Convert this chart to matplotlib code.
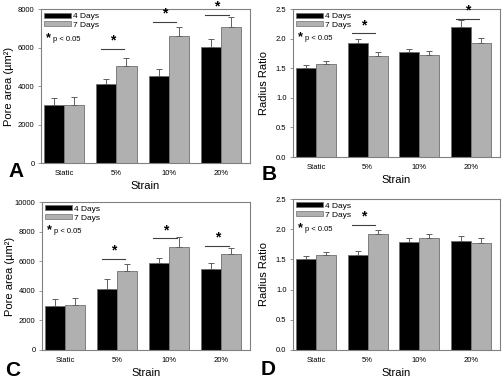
import matplotlib.pyplot as plt
from matplotlib.patches import Patch

plt.rcParams['font.family'] = ['Liberation Sans', 'DejaVu Sans']

strains = ['Static', '5%', '10%', '20%']

# panel A: pore area
a_day4 = [3000, 4120, 4520, 6050]
a_day4_err = [400, 250, 350, 420]
a_day7 = [3030, 5060, 6620, 7060]
a_day7_err = [430, 420, 430, 520]
a_sig = [None, 5930, 7350, 7690]

# panel B: radius ratio
b_day4 = [1.51, 1.92, 1.78, 2.20]
b_day4_err = [0.05, 0.08, 0.05, 0.12]
b_day7 = [1.57, 1.71, 1.73, 1.93]
b_day7_err = [0.05, 0.07, 0.06, 0.08]
b_sig = [None, 2.09, None, 2.34]

# panel C: pore area
c_day4 = [3000, 4100, 5850, 5500]
c_day4_err = [420, 680, 350, 350]
c_day7 = [3030, 5320, 6930, 6460]
c_day7_err = [450, 520, 720, 400]
c_sig = [None, 6150, 7550, 7050]

# panel D: radius ratio
d_day4 = [1.51, 1.57, 1.79, 1.81]
d_day4_err = [0.05, 0.07, 0.07, 0.07]
d_day7 = [1.57, 1.92, 1.86, 1.77]
d_day7_err = [0.05, 0.07, 0.06, 0.08]
d_sig = [None, 2.07, None, None]

GRAY = '#b0b0b0'
EDGE = '#707070'


def draw_panel(ax, day4, e4, day7, e7, sig, ymax, yticks, ylabel, ytickfmt, label_x):
    x = range(len(strains))
    w = 0.385
    pos4 = [i - w / 2 for i in x]
    pos7 = [i + w / 2 for i in x]
    ekw = dict(ecolor='#606060', elinewidth=0.7, capsize=2, capthick=0.7)
    ax.bar(pos4, day4, w, color='black', edgecolor=EDGE, linewidth=0.6,
           yerr=[[0] * 4, e4], error_kw=ekw)
    ax.bar(pos7, day7, w, color=GRAY, edgecolor=EDGE, linewidth=0.6,
           yerr=[[0] * 4, e7], error_kw=ekw)
    for i, s in enumerate(sig):
        if s is None:
            continue
        ax.plot([i - 0.3, i + 0.15], [s, s], color='#404040', lw=0.8)
        ax.text(i - 0.07, s + ymax * 0.008, '*', ha='center', va='bottom',
                fontsize=10, fontweight='bold')

    ax.set_xlim(-0.45, 3.56)
    ax.set_ylim(0, ymax)
    ax.set_yticks(yticks)
    ax.set_yticklabels([ytickfmt(t) for t in yticks])
    ax.set_xticks(list(x))
    ax.set_xticklabels(strains)
    ax.tick_params(axis='both', labelsize=5.5, length=2.5, width=0.5, color=EDGE, pad=2)
    ax.tick_params(axis='x', length=0, pad=5)
    for sp in ax.spines.values():
        sp.set_color('#808080')
        sp.set_linewidth(0.8)
    ax.set_xlabel('Strain', fontsize=8, labelpad=3)
    ax.set_ylabel(ylabel, fontsize=8)
    ax.yaxis.set_label_coords(label_x, 0.5)

    handles = [Patch(facecolor='black', edgecolor=EDGE, lw=0.5, label='4 Days'),
               Patch(facecolor=GRAY, edgecolor=EDGE, lw=0.5, label='7 Days')]
    ax.legend(handles=handles, loc='upper left', frameon=False, fontsize=6,
              handlelength=3.2, handleheight=0.55, handletextpad=0.3,
              labelspacing=0.15, borderaxespad=0.2, borderpad=0.2)
    ax.text(0.025, 0.81, '*', transform=ax.transAxes, fontsize=9,
            fontweight='bold', va='center')
    ax.text(0.06, 0.80, 'p < 0.05', transform=ax.transAxes, fontsize=5.5, va='center')


fig = plt.figure(figsize=(5.04, 3.82), dpi=100)
axA = fig.add_axes([0.081, 0.573, 0.415, 0.403])
axB = fig.add_axes([0.581, 0.589, 0.411, 0.387])
axC = fig.add_axes([0.083, 0.084, 0.413, 0.387])
axD = fig.add_axes([0.581, 0.084, 0.411, 0.395])

pore_fmt = lambda t: '%d' % t
ratio_fmt = lambda t: '%.1f' % t
draw_panel(axA, a_day4, a_day4_err, a_day7, a_day7_err, a_sig, 8000,
           [0, 2000, 4000, 6000, 8000], 'Pore area (\u00b5m\u00b2)', pore_fmt, -0.13)
draw_panel(axB, b_day4, b_day4_err, b_day7, b_day7_err, b_sig, 2.5,
           [0, 0.5, 1.0, 1.5, 2.0, 2.5], 'Radius Ratio', ratio_fmt, -0.116)
draw_panel(axC, c_day4, c_day4_err, c_day7, c_day7_err, c_sig, 10000,
           [0, 2000, 4000, 6000, 8000, 10000], 'Pore area (\u00b5m\u00b2)', pore_fmt, -0.13)
draw_panel(axD, d_day4, d_day4_err, d_day7, d_day7_err, d_sig, 2.5,
           [0, 0.5, 1.0, 1.5, 2.0, 2.5], 'Radius Ratio', ratio_fmt, -0.116)

for letter, lx, ly in [('A', 0.016, 0.552), ('B', 0.520, 0.542),
                       ('C', 0.010, 0.029), ('D', 0.518, 0.034)]:
    fig.text(lx, ly, letter, fontsize=15, fontweight='bold', ha='left', va='center')

fig.savefig('out.png', dpi=100)
